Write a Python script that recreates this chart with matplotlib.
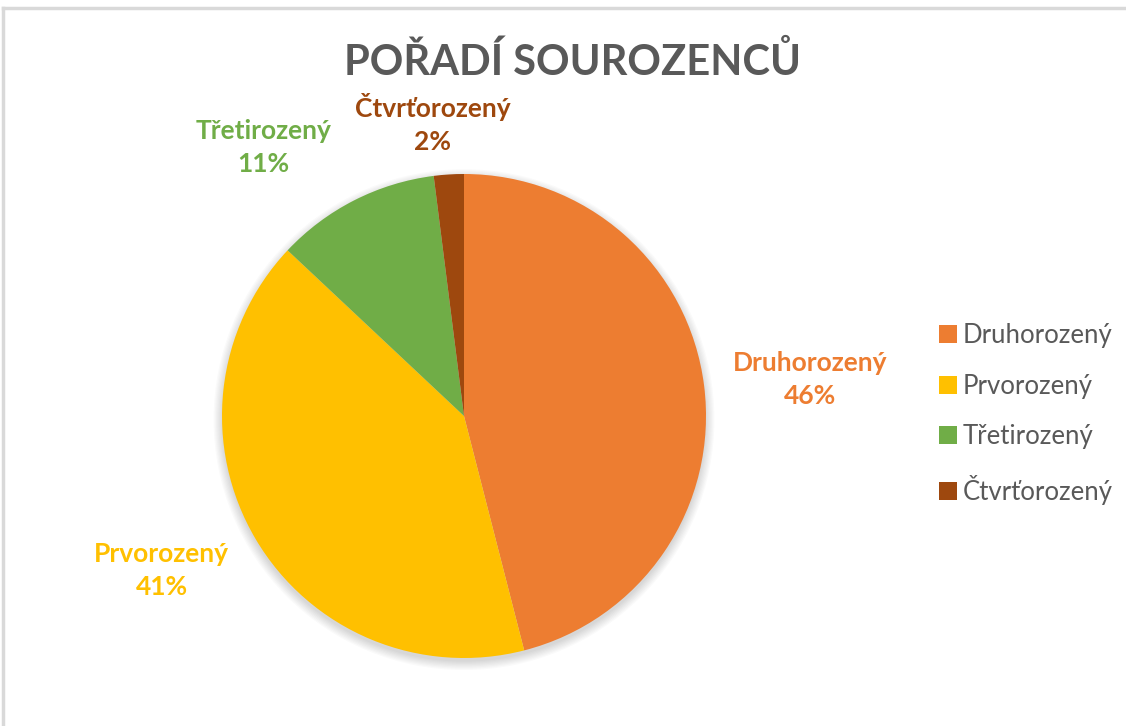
import matplotlib.pyplot as plt
from matplotlib.patches import Circle
from matplotlib.lines import Line2D

categories = ["Druhorozený", "Prvorozený", "Třetirozený", "Čtvrťorozený"]
shares = [46, 41, 11, 2]
colors = ["#ED7D31", "#FFC000", "#70AD47", "#9E480E"]
title = "POŘADÍ SOUROZENCŮ"

# where Excel put the data labels (axes data units, pie radius = 1)
label_xy = [(1.43, 0.15), (-1.25, -0.64), (-0.83, 1.11), (-0.13, 1.21)]

plt.rcParams["font.family"] = ["Lato", "DejaVu Sans"]

W, H = 1126, 726
fig = plt.figure(figsize=(W / 100, H / 100), dpi=100)
fig.patch.set_facecolor("white")

# chart area frame (top and left edge visible in the screenshot)
fig.add_artist(Line2D([3 / W, 1], [1 - 8 / H, 1 - 8 / H], color="#D9D9D9", lw=2.5))
fig.add_artist(Line2D([3 / W, 3 / W], [0, 1 - 8 / H], color="#D9D9D9", lw=2.5))

cx, cy, r = 464, 416, 242
ax = fig.add_axes([(cx - r) / W, (H - cy - r) / H, 2 * r / W, 2 * r / H])

wedges, _ = ax.pie(shares, colors=colors, startangle=90, counterclock=False,
                   radius=1, wedgeprops=dict(linewidth=0))
for w in wedges:
    w.set_zorder(2)

# pie() resets the limits, so set them afterwards
ax.set_xlim(-1, 1)
ax.set_ylim(-1, 1)
ax.set_aspect("equal")
ax.axis("off")

# soft shadow under the pie
for k in range(8):
    ax.add_patch(Circle((0, -0.015), 1.0 + 0.005 * k, color="black",
                        alpha=0.018, lw=0, zorder=0, clip_on=False))

for name, val, col, (x, y) in zip(categories, shares, colors, label_xy):
    ax.text(x, y, f"{name}\n{val}%", color=col, fontsize=19, fontweight="bold",
            ha="center", va="center", linespacing=1.45, clip_on=False)

fig.text(573 / W, 1 - 62 / H, title, ha="center", va="center",
         fontsize=30, fontweight="bold", color="#595959")

fig.legend(wedges, categories, loc="center left", bbox_to_anchor=(916 / W, 1 - 414 / H),
           frameon=False, fontsize=18.5, labelcolor="#595959", handlelength=0.7,
           handleheight=0.7, handletextpad=0.2, labelspacing=1.0)

fig.savefig("out.png", dpi=100)
